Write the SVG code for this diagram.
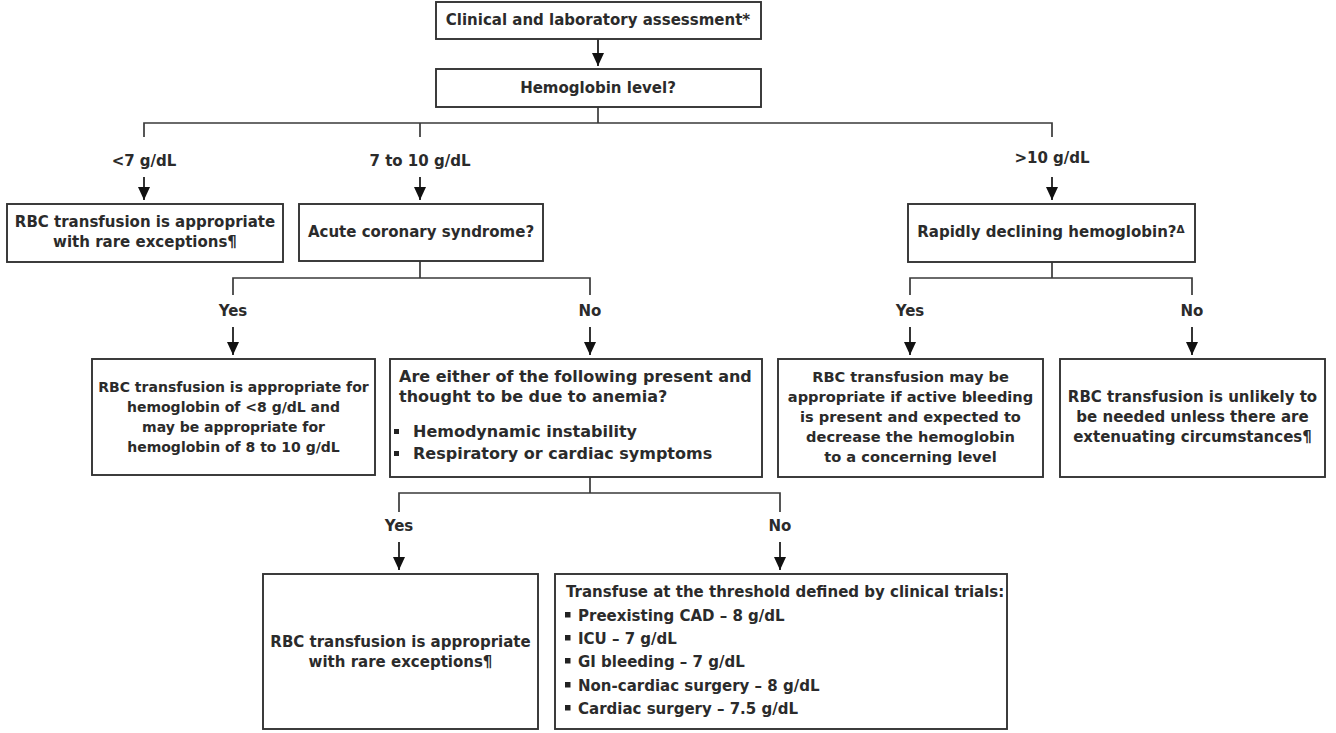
<svg xmlns="http://www.w3.org/2000/svg" width="1336" height="733" viewBox="0 0 1336 733">
<defs>
<marker id="ah" markerUnits="userSpaceOnUse" markerWidth="13" markerHeight="12" refX="13" refY="6" orient="auto" viewBox="0 0 13 12">
<path d="M0,0 L13,6 L0,12 z" fill="#111"/>
</marker>
<style>
.box{fill:#fff;stroke:#333;stroke-width:1.9}
.ln{fill:none;stroke:#3a3a3a;stroke-width:1.7}
.ar{fill:none;stroke:#111;stroke-width:1.7}
text{font-family:"DejaVu Sans","Noto Sans",sans-serif;font-size:15px;font-weight:bold;fill:#2b2b2b}
.c{text-anchor:middle}
.s14{font-size:14px}
.s16{font-size:16px}
.s146{font-size:14.6px}
.bl{fill:#222}
</style>
</defs>
<rect width="1336" height="733" fill="#fff"/>
<g id="connectors">
<line class="ar" x1="598" y1="39" x2="598" y2="66" marker-end="url(#ah)"/>
<path class="ln" d="M598,107 V123 M144,137 V123 H1052 V137 M420,123 V137"/>
<text class="c" x="144" y="166">&lt;7 g/dL</text>
<text class="c" x="420" y="166">7 to 10 g/dL</text>
<text class="c" x="1052" y="163">&gt;10 g/dL</text>
<line class="ar" x1="144" y1="177" x2="144" y2="200" marker-end="url(#ah)"/>
<line class="ar" x1="420" y1="177" x2="420" y2="200" marker-end="url(#ah)"/>
<line class="ar" x1="1052" y1="177" x2="1052" y2="200" marker-end="url(#ah)"/>
<path class="ln" d="M420,261 V278 M233,295 V278 H590 V295"/>
<path class="ln" d="M1052,262 V278 M910,295 V278 H1192 V295"/>
<text class="c" x="233" y="316">Yes</text>
<text class="c" x="590" y="316">No</text>
<text class="c" x="910" y="316">Yes</text>
<text class="c" x="1192" y="316">No</text>
<line class="ar" x1="233" y1="327" x2="233" y2="355" marker-end="url(#ah)"/>
<line class="ar" x1="590" y1="327" x2="590" y2="355" marker-end="url(#ah)"/>
<line class="ar" x1="910" y1="327" x2="910" y2="355" marker-end="url(#ah)"/>
<line class="ar" x1="1192" y1="327" x2="1192" y2="355" marker-end="url(#ah)"/>
<path class="ln" d="M590,477 V493 M399,512 V493 H780 V512"/>
<text class="c" x="399" y="531">Yes</text>
<text class="c" x="780" y="531">No</text>
<line class="ar" x1="399" y1="542" x2="399" y2="570" marker-end="url(#ah)"/>
<line class="ar" x1="780" y1="542" x2="780" y2="570" marker-end="url(#ah)"/>
</g>
<g id="n-assess">
<rect class="box" x="436" y="2" width="325" height="37"/>
<text class="c" x="598" y="25">Clinical and laboratory assessment*</text>
</g>
<g id="n-hb">
<rect class="box" x="436" y="69" width="325" height="38"/>
<text class="c" x="598" y="93">Hemoglobin level?</text>
</g>
<g id="n-lt7">
<rect class="box" x="7" y="204" width="276" height="58"/>
<text class="c" x="145" y="227">RBC transfusion is appropriate</text>
<text class="c" x="145" y="247">with rare exceptions¶</text>
</g>
<g id="n-acs">
<rect class="box" x="299" y="204" width="244" height="57"/>
<text class="c" x="421" y="237">Acute coronary syndrome?</text>
</g>
<g id="n-rapid">
<rect class="box" x="908" y="204" width="287" height="58"/>
<text class="c" x="1051" y="237">Rapidly declining hemoglobin?<tspan font-size="10.5" dy="-4">Δ</tspan></text>
</g>
<g id="n-acs-yes">
<rect class="box" x="92" y="359" width="283" height="116"/>
<text class="c s14" x="233.5" y="392">RBC transfusion is appropriate for</text>
<text class="c s14" x="233.5" y="412">hemoglobin of &lt;8 g/dL and</text>
<text class="c s14" x="233.5" y="432">may be appropriate for</text>
<text class="c s14" x="233.5" y="452">hemoglobin of 8 to 10 g/dL</text>
</g>
<g id="n-either">
<rect class="box" x="390" y="359" width="372" height="118"/>
<text class="s16" x="399" y="382">Are either of the following present and</text>
<text class="s16" x="399" y="402">thought to be due to anemia?</text>
<rect class="bl" x="394" y="429" width="5" height="5"/>
<text class="s16" x="413" y="437">Hemodynamic instability</text>
<rect class="bl" x="394" y="451" width="5" height="5"/>
<text class="s16" x="413" y="459">Respiratory or cardiac symptoms</text>
</g>
<g id="n-rapid-yes">
<rect class="box" x="778" y="359" width="265" height="118"/>
<text class="c s146" x="910.5" y="382">RBC transfusion may be</text>
<text class="c s146" x="910.5" y="402">appropriate if active bleeding</text>
<text class="c s146" x="910.5" y="422">is present and expected to</text>
<text class="c s146" x="910.5" y="442">decrease the hemoglobin</text>
<text class="c s146" x="910.5" y="462">to a concerning level</text>
</g>
<g id="n-rapid-no">
<rect class="box" x="1060" y="359" width="265" height="118"/>
<text class="c" x="1192.5" y="402">RBC transfusion is unlikely to</text>
<text class="c" x="1192.5" y="422">be needed unless there are</text>
<text class="c" x="1192.5" y="442">extenuating circumstances¶</text>
</g>
<g id="n-yes-final">
<rect class="box" x="263" y="574" width="275" height="155"/>
<text class="c" x="400.5" y="647">RBC transfusion is appropriate</text>
<text class="c" x="400.5" y="667">with rare exceptions¶</text>
</g>
<g id="n-trials">
<rect class="box" x="555" y="574" width="452" height="155"/>
<text x="566" y="597">Transfuse at the threshold defined by clinical trials:</text>
<rect class="bl" x="565" y="612" width="5.5" height="5.5"/>
<text x="578" y="621">Preexisting CAD – 8 g/dL</text>
<rect class="bl" x="565" y="635" width="5.5" height="5.5"/>
<text x="578" y="644">ICU – 7 g/dL</text>
<rect class="bl" x="565" y="658" width="5.5" height="5.5"/>
<text x="578" y="667">GI bleeding – 7 g/dL</text>
<rect class="bl" x="565" y="682" width="5.5" height="5.5"/>
<text x="578" y="691">Non-cardiac surgery – 8 g/dL</text>
<rect class="bl" x="565" y="705" width="5.5" height="5.5"/>
<text x="578" y="714">Cardiac surgery – 7.5 g/dL</text>
</g>
</svg>
